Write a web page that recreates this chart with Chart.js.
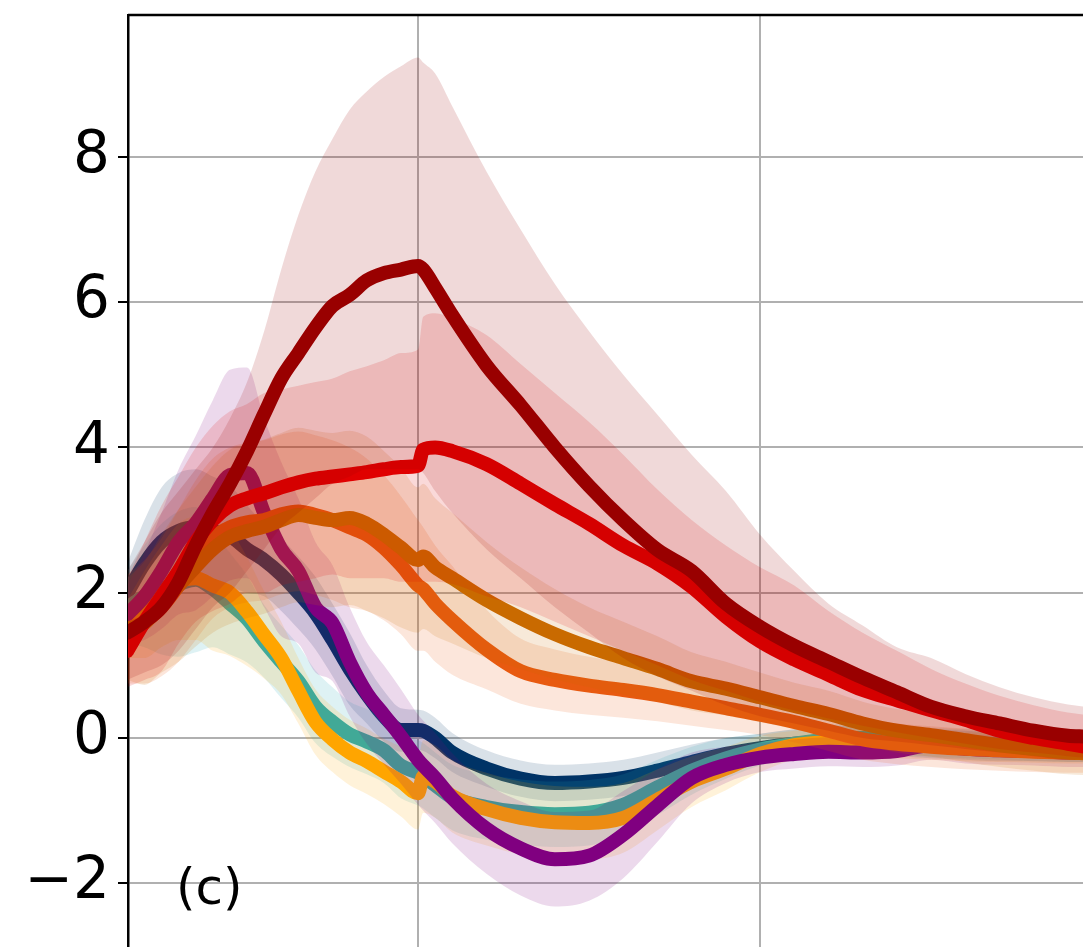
<!DOCTYPE html>
<html>
<head>
<meta charset="utf-8">
<script src="https://cdn.jsdelivr.net/npm/chart.js@4.4.1/dist/chart.umd.min.js"></script>
<style>
html,body{margin:0;padding:0;background:#fff;overflow:hidden}
#wrap{width:1083px;height:947px;position:relative}
</style>
</head>
<body>
<div id="wrap"><canvas id="c"></canvas></div>
<script>
// x positions of the samples (grid lines at 0 and 10)
const xs = [-8.5,-8,-7.5,-7,-6.5,-6,-5.5,-5,-4.5,-4,-3.5,-3,-2.5,-2,-1.5,-1,-0.5,0,0.15,0.5,1,2,3,4,5,6,7,8,9,10,11,12,13,14,15,16,17,18,19,19.5];
const xTickValues = [0, 10];
const yTickValues = [-2, 0, 2, 4, 6, 8];

// series lines
const navy        = [2.0,2.4,2.7,2.85,2.9,2.85,2.78,2.6,2.45,2.25,2.0,1.72,1.35,0.95,0.6,0.3,0.11,0.11,0.1,0.0,-0.2,-0.42,-0.56,-0.62,-0.6,-0.55,-0.45,-0.33,-0.22,-0.14,-0.08,-0.04,-0.03,-0.05,-0.08,-0.1,-0.12,-0.12,-0.13,-0.13];
const teal        = [1.8,1.95,2.05,2.12,2.18,2.05,1.85,1.64,1.33,1.05,0.78,0.43,0.22,0.05,-0.05,-0.17,-0.38,-0.48,-0.52,-0.65,-0.82,-0.95,-1.02,-1.05,-1.03,-0.92,-0.68,-0.45,-0.28,-0.16,-0.08,-0.02,0.0,-0.03,-0.06,-0.08,-0.1,-0.12,-0.13,-0.13];
const amber       = [1.5,1.7,1.95,2.15,2.2,2.1,2.0,1.74,1.42,1.1,0.65,0.22,-0.02,-0.2,-0.32,-0.46,-0.6,-0.76,-0.53,-0.6,-0.8,-0.98,-1.1,-1.16,-1.17,-1.1,-0.85,-0.6,-0.42,-0.22,-0.1,-0.06,-0.05,-0.08,-0.1,-0.12,-0.13,-0.14,-0.15,-0.15];
const purple      = [1.7,1.95,2.3,2.7,2.96,3.3,3.62,3.65,3.1,2.6,2.3,1.8,1.58,1.05,0.62,0.32,0.02,-0.3,-0.38,-0.55,-0.83,-1.25,-1.52,-1.67,-1.62,-1.33,-0.93,-0.55,-0.37,-0.27,-0.22,-0.19,-0.2,-0.18,-0.1,-0.15,-0.17,-0.18,-0.2,-0.2];
const orangeRed   = [1.5,1.6,1.8,2.1,2.45,2.75,2.9,2.97,3.0,3.08,3.12,3.07,3.0,2.9,2.8,2.62,2.38,2.1,2.05,1.85,1.62,1.22,0.92,0.8,0.72,0.66,0.59,0.5,0.41,0.32,0.22,0.1,-0.02,-0.08,-0.12,-0.15,-0.17,-0.19,-0.2,-0.2];
const orangeBrown = [1.5,1.58,1.85,2.1,2.36,2.6,2.77,2.85,2.91,3.0,3.07,3.03,3.0,3.03,2.95,2.8,2.62,2.45,2.5,2.35,2.2,1.9,1.65,1.43,1.25,1.1,0.95,0.78,0.68,0.56,0.44,0.33,0.2,0.1,0.04,-0.03,-0.1,-0.15,-0.2,-0.21];
const red         = [1.2,1.6,1.95,2.3,2.7,3.0,3.2,3.3,3.37,3.45,3.52,3.57,3.6,3.63,3.66,3.7,3.73,3.75,3.97,4.0,3.95,3.77,3.5,3.22,2.95,2.65,2.4,2.08,1.67,1.33,1.08,0.87,0.66,0.52,0.38,0.25,0.1,0.0,-0.08,-0.12];
const darkRed     = [1.45,1.6,1.8,2.15,2.65,3.1,3.5,3.95,4.46,4.95,5.3,5.65,5.95,6.1,6.3,6.4,6.45,6.5,6.45,6.2,5.82,5.13,4.58,4.0,3.47,3.0,2.59,2.3,1.85,1.53,1.27,1.05,0.83,0.63,0.43,0.3,0.2,0.1,0.03,0.02];

// half-widths of the shaded bands
const navySpread        = [0.4,0.6,0.75,0.8,0.8,0.75,0.7,0.6,0.5,0.5,0.5,0.5,0.5,0.5,0.4,0.35,0.3,0.28,0.28,0.28,0.27,0.25,0.25,0.25,0.25,0.25,0.25,0.24,0.22,0.2,0.2,0.2,0.2,0.2,0.2,0.2,0.2,0.2,0.2,0.2];
const tealSpread        = [0.5,0.7,0.9,1.0,1.0,0.8,0.7,0.6,0.5,0.5,0.5,0.5,0.48,0.45,0.45,0.45,0.45,0.45,0.45,0.45,0.45,0.45,0.45,0.45,0.45,0.42,0.38,0.33,0.28,0.22,0.2,0.2,0.2,0.2,0.2,0.2,0.2,0.2,0.2,0.2];
const amberSpread       = [0.4,0.6,0.7,0.8,0.85,0.9,0.87,0.75,0.6,0.5,0.45,0.45,0.45,0.45,0.45,0.45,0.48,0.5,0.5,0.5,0.5,0.5,0.5,0.5,0.5,0.48,0.42,0.35,0.3,0.25,0.2,0.2,0.2,0.2,0.2,0.2,0.2,0.2,0.2,0.2];
const purpleSpread      = [0.4,0.6,0.8,1.0,1.2,1.35,1.45,1.45,1.3,1.2,1.0,0.9,0.8,0.75,0.7,0.68,0.65,0.62,0.62,0.62,0.62,0.62,0.65,0.65,0.62,0.6,0.5,0.35,0.25,0.2,0.2,0.2,0.2,0.2,0.2,0.2,0.2,0.2,0.2,0.2];
const orangeRedSpread   = [0.75,0.85,0.95,1.05,1.1,1.1,1.1,1.1,1.1,1.1,1.1,1.1,1.1,1.1,1.05,1.0,0.95,0.9,0.85,0.8,0.75,0.55,0.45,0.42,0.4,0.38,0.36,0.33,0.3,0.28,0.28,0.28,0.28,0.28,0.28,0.28,0.28,0.28,0.28,0.28];
const orangeBrownSpread = [0.7,0.85,0.95,1.05,1.1,1.15,1.2,1.2,1.2,1.2,1.2,1.2,1.2,1.2,1.2,1.15,1.1,1.0,1.0,0.95,0.9,0.8,0.7,0.62,0.55,0.5,0.45,0.4,0.37,0.34,0.32,0.32,0.3,0.3,0.3,0.3,0.3,0.3,0.3,0.3];

// explicit band edges for the two red series
const redHigh     = [2.2,2.7,3.2,3.6,4.0,4.3,4.5,4.6,4.75,4.8,4.85,4.9,4.95,5.05,5.12,5.2,5.3,5.35,5.8,5.85,5.78,5.55,5.15,4.75,4.35,3.9,3.42,3.0,2.65,2.35,2.1,1.75,1.45,1.2,0.95,0.75,0.58,0.45,0.35,0.32];
const redLow      = [0.7,0.8,0.92,1.3,1.6,1.75,1.85,2.0,2.0,2.1,2.15,2.2,2.25,2.2,2.2,2.2,2.15,2.15,2.15,2.15,2.12,1.95,1.8,1.6,1.4,1.2,1.0,0.8,0.65,0.5,0.38,0.27,0.17,0.08,0.0,-0.08,-0.15,-0.2,-0.25,-0.27];
const darkRedHigh = [2.3,2.7,3.1,3.4,3.7,4.0,4.4,4.9,5.6,6.45,7.2,7.8,8.25,8.65,8.9,9.1,9.25,9.37,9.3,9.15,8.7,7.8,7.0,6.25,5.6,5.0,4.45,3.9,3.4,2.8,2.3,1.85,1.55,1.25,1.1,0.88,0.7,0.56,0.46,0.43];
const darkRedLow  = [0.8,0.9,1.0,1.2,1.5,1.8,2.0,2.3,2.6,2.9,3.1,3.3,3.5,3.6,3.7,3.7,3.7,3.7,3.65,3.4,3.1,2.6,2.2,1.8,1.45,1.1,0.85,0.65,0.45,0.3,0.2,0.1,0.0,-0.05,-0.1,-0.15,-0.2,-0.25,-0.3,-0.3];

const colors = {
  navy: '#003366', teal: '#20aab2', amber: '#ffa500', purple: '#800080',
  orangeRed: '#e85a10', orangeBrown: '#c96a00', red: '#e00000', darkRed: '#990000'
};

// bottom-most first
const series = [
  {line: navy,        lo: navy.map((v,i)=>v-navySpread[i]),               hi: navy.map((v,i)=>v+navySpread[i]),               color: colors.navy},
  {line: teal,        lo: teal.map((v,i)=>v-tealSpread[i]),               hi: teal.map((v,i)=>v+tealSpread[i]),               color: colors.teal},
  {line: amber,       lo: amber.map((v,i)=>v-amberSpread[i]),             hi: amber.map((v,i)=>v+amberSpread[i]),             color: colors.amber},
  {line: purple,      lo: purple.map((v,i)=>v-purpleSpread[i]),           hi: purple.map((v,i)=>v+purpleSpread[i]),           color: colors.purple},
  {line: orangeRed,   lo: orangeRed.map((v,i)=>v-orangeRedSpread[i]),     hi: orangeRed.map((v,i)=>v+orangeRedSpread[i]),     color: colors.orangeRed},
  {line: orangeBrown, lo: orangeBrown.map((v,i)=>v-orangeBrownSpread[i]), hi: orangeBrown.map((v,i)=>v+orangeBrownSpread[i]), color: colors.orangeBrown},
  {line: red,         lo: redLow,     hi: redHigh,     color: colors.red},
  {line: darkRed,     lo: darkRedLow, hi: darkRedHigh, color: colors.darkRed}
];

function pts(arr){ return xs.map((x,i)=>({x:x, y:arr[i]})); }
function rgba(hex,a){
  const n=parseInt(hex.slice(1),16);
  return `rgba(${(n>>16)&255},${(n>>8)&255},${n&255},${a})`;
}

const datasets = [];
series.forEach((s,k)=>{
  const base = 1000 - 10*k;
  datasets.push({data: pts(s.lo), borderWidth:0, pointRadius:0, fill:false, order: base, clip:0, cubicInterpolationMode:'monotone'});
  datasets.push({data: pts(s.hi), borderWidth:0, pointRadius:0, fill:'-1', backgroundColor: rgba(s.color,0.15), order: base, clip:0, cubicInterpolationMode:'monotone'});
  datasets.push({data: pts(s.line), borderColor: s.color, borderWidth:14, pointRadius:0, fill:false, order: base-1, clip:0,
    borderCapStyle:'round', borderJoinStyle:'round', cubicInterpolationMode:'monotone'});
});

const decor = {
  id: 'decor',
  afterDraw(chart){
    const {ctx, chartArea} = chart;
    ctx.save();
    ctx.strokeStyle = '#000';
    ctx.lineWidth = 2.5;
    ctx.beginPath();
    ctx.moveTo(chartArea.left, chartArea.top);
    ctx.lineTo(chartArea.right, chartArea.top);
    ctx.stroke();
    ctx.fillStyle = '#000';
    ctx.font = '50px "DejaVu Sans"';
    ctx.textBaseline = 'alphabetic';
    ctx.textAlign = 'left';
    ctx.fillText('(c)', 176, 904);
    ctx.restore();
  }
};

new Chart(document.getElementById('c'), {
  type: 'line',
  data: { datasets },
  options: {
    responsive: true,
    maintainAspectRatio: false,
    animation: false,
    devicePixelRatio: 1,
    layout: { padding: { top: 15, left: 0, right: 0, bottom: 0 } },
    plugins: { legend: {display:false}, tooltip: {enabled:false}, title: {display:false} },
    scales: {
      x: {
        type: 'linear', min: -8.48, max: 19.44,
        afterBuildTicks: s => { s.ticks = xTickValues.map(v=>({value:v})); },
        afterFit: s => { s.height = 0; s.paddingLeft = 0; s.paddingRight = 0; },
        ticks: { display:false },
        grid: { color:'#b0b0b0', lineWidth:2, drawTicks:false },
        border: { display:false }
      },
      y: {
        type: 'linear', min: -2.878, max: 9.955,
        afterBuildTicks: s => { s.ticks = yTickValues.map(v=>({value:v})); },
        afterFit: s => { s.width = 128; s.paddingTop = 0; s.paddingBottom = 0; },
        ticks: {
          color:'#000', padding: 8,
          font: { family: '"DejaVu Sans"', size: 58 },
          callback: v => (v < 0 ? '\u2212' + Math.abs(v) : String(v))
        },
        grid: { color:'#b0b0b0', lineWidth:2, tickColor:'#000', tickLength:10, tickWidth:2 },
        border: { display:true, color:'#000', width:2.5 }
      }
    }
  },
  plugins: [decor]
});
</script>
</body>
</html>
